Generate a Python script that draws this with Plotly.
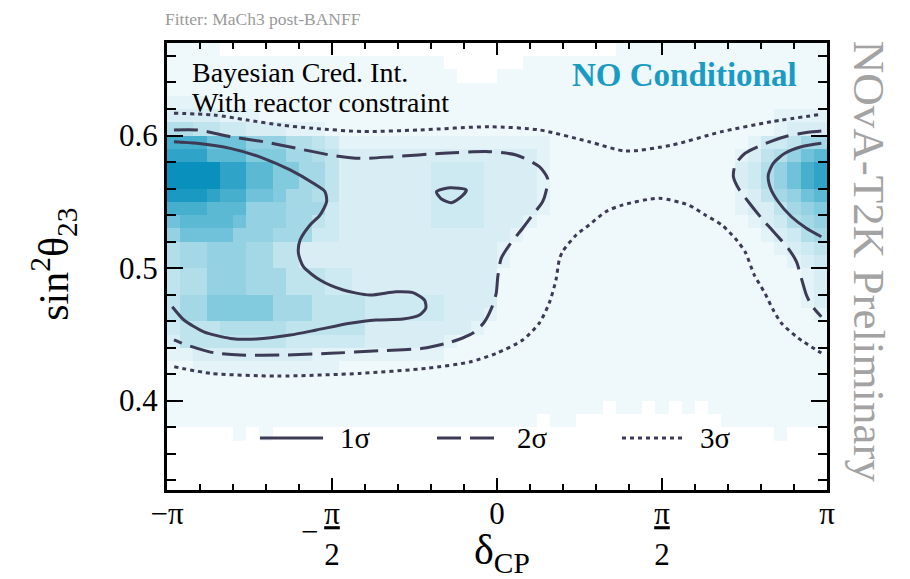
import math
import plotly.graph_objects as go

# ---------------- data ----------------
N_DCP_BINS = 50            # delta_CP bins across [-pi, pi]
S23_BIN = 0.01             # sin^2(theta23) row height
S23_BOTTOM_ROW = 0.375     # centre of lowest listed row

# posterior density level per bin (0 = empty, 1..f = increasing density); rows listed top (0.665) -> bottom (0.375)
density_rows = [
    "1111000000 0000000000 0000000000 0000111111 1111111111",  # 0.665
    "1111111111 1111111111 1000000111 1111111111 1111111111",  # 0.655
    "1111111111 1111111111 1100011111 1111111111 1111111111",  # 0.645
    "1111111111 1111111111 1111111111 1111111111 1111111111",  # 0.635
    "2221111111 1111111111 1111111111 1111111111 1111111111",  # 0.625
    "3333222111 1111111111 1111111111 1111111111 1111112222",  # 0.615
    "6655443332 2211111111 1111111111 1111111111 1111112333",  # 0.605
    "cccaaa8886 6542222222 2222222221 1111111111 1111244577",  # 0.595
    "dddbbb9997 7653333333 3333333321 1111111111 11123568ab",  # 0.585
    "ffffddbb99 7753333333 4444333321 1111111111 1113468acd",  # 0.575
    "ffffddbb99 7753333333 4444333321 1111111111 1113468acd",  # 0.565
    "eeedccaa97 7653333333 4444333321 1111111111 11123578ab",  # 0.555
    "cccbbb8887 7743333333 4444333321 1111111111 1112335789",  # 0.545
    "abbbba8887 7543333333 4444333211 1111111111 1111234678",  # 0.535
    "8aaaa88877 7443333333 3333332111 1111111111 1111123467",  # 0.525
    "6778887755 3333333333 3333321111 1111111111 1111112345",  # 0.515
    "6778887755 3333333333 3333321111 1111111111 1111111234",  # 0.505
    "5668887775 5544333333 3333311111 1111111111 1111111123",  # 0.495
    "5668887775 5544333333 3333311111 1111111111 1111111123",  # 0.485
    "5779999977 7555544444 4333311111 1111111111 1111111123",  # 0.475
    "5779999977 7555544444 4333211111 1111111111 1111111112",  # 0.465
    "4555666665 5555533333 3332111111 1111111111 1111111111",  # 0.455
    "3555555554 4444433333 3211111111 1111111111 1111111111",  # 0.445
    "2233333333 3222222222 2111111111 1111111111 1111111111",  # 0.435
    "1122222222 2221111111 1111111111 1111111111 1111111111",  # 0.425
    "1111111111 1111111111 1111111111 1111111111 1111111111",  # 0.415
    "1111111111 1111111111 1111111111 1111111111 1111111111",  # 0.405
    "1111111111 1111111111 1111111111 1110110101 0111111111",  # 0.395
    "1111111111 1111111111 1111111101 1000000000 0011111111",  # 0.385
    "0000010100 0000000000 0000000000 0000000000 0000001000",  # 0.375
]

# 1 sigma contours
sig1_left_dcp = [-3.0752, -2.8573, -2.5379, -2.2223, -1.9693, -1.7485, -1.6376, -1.6224, -1.6850, -1.7797,
                 -1.8745, -1.8906, -1.8432, -1.6850, -1.4642, -1.2111, -0.9619, -0.8008, -0.6899, -0.6776,
                 -0.7373, -0.8956, -1.1514, -1.4007, -1.7200, -1.9693, -2.2886, -2.5379, -2.7909, -2.9805, -3.0913]
sig1_left_s23 = [0.5953, 0.5941, 0.5903, 0.5828, 0.5740, 0.5639, 0.5576, 0.5500, 0.5400, 0.5325,
                 0.5211, 0.5113, 0.5010, 0.4909, 0.4834, 0.4796, 0.4821, 0.4814, 0.4758, 0.4698,
                 0.4645, 0.4615, 0.4608, 0.4583, 0.4532, 0.4494, 0.4464, 0.4469, 0.4519, 0.4608, 0.4708]
sig1_island_dcp = [-0.5762, -0.4501, -0.2919, -0.3393, -0.4340, -0.5288, -0.5762]
sig1_island_s23 = [0.5576, 0.5606, 0.5589, 0.5538, 0.5493, 0.5521, 0.5576]
sig1_right_dcp = [3.0875, 2.8980, 2.7407, 2.6298, 2.5824, 2.5985, 2.6772, 2.8032, 2.9454, 3.0875]
sig1_right_s23 = [0.5941, 0.5915, 0.5866, 0.5790, 0.5702, 0.5614, 0.5500, 0.5387, 0.5300, 0.5236]

# 2 sigma contours
sig2_left_dcp = [-3.0752, -2.8544, -2.5379, -2.2223, -1.9067, -1.5902, -1.3031, -0.9875, -0.5136, -0.0711,
                 0.1820, 0.4028, 0.4814, 0.4663, 0.4340, 0.3393, 0.2445, 0.1185, 0.0398, 0.0076,
                 -0.0076, -0.0521, -0.1279, -0.2293, -0.3269, -0.4530, -0.7060, -1.1164, -1.5902, -2.0640,
                 -2.4431, -2.6961, -2.8544, -2.9966, -3.0752]
sig2_left_s23 = [0.6042, 0.6042, 0.5991, 0.5953, 0.5903, 0.5853, 0.5828, 0.5840, 0.5866, 0.5878,
                 0.5853, 0.5765, 0.5677, 0.5576, 0.5500, 0.5400, 0.5300, 0.5174, 0.5073, 0.4934,
                 0.4809, 0.4698, 0.4585, 0.4509, 0.4472, 0.4438, 0.4394, 0.4376, 0.4356, 0.4343,
                 0.4343, 0.4361, 0.4394, 0.4432, 0.4457]
sig2_right_dcp = [3.0875, 2.9615, 2.7407, 2.5189, 2.3616, 2.2668, 2.2507, 2.2981, 2.3929, 2.5189,
                  2.6611, 2.7720, 2.8506, 2.8980, 2.9454, 2.9928, 3.0875]
sig2_right_s23 = [0.6034, 0.6024, 0.5991, 0.5928, 0.5866, 0.5777, 0.5689, 0.5602, 0.5500, 0.5375,
                  0.5249, 0.5149, 0.5048, 0.4922, 0.4796, 0.4721, 0.4632]

# 3 sigma contours
sig3_top_dcp = [-3.0752, -2.6961, -2.3806, -2.0640, -1.7485, -1.2746, -0.7345, -0.0711, 0.4028, 0.8766,
                1.2244, 1.6660, 2.1399, 2.6137, 3.0875]
sig3_top_s23 = [0.6168, 0.6155, 0.6117, 0.6079, 0.6054, 0.6030, 0.6042, 0.6066, 0.6042, 0.5953,
                0.5883, 0.5928, 0.6029, 0.6104, 0.6160]
sig3_bot_dcp = [-3.0724, -2.7246, -2.0925, -1.3031, -0.6710, -0.2606, -0.0076, 0.2445, 0.4028, 0.4975,
                0.5610, 0.5923, 0.6236, 0.7534, 0.8766, 1.0349, 1.1922, 1.5400, 1.8243, 1.9825,
                2.1399, 2.2668, 2.3616, 2.4498, 2.5511, 2.6298, 2.7085, 2.8667, 3.0875]
sig3_bot_s23 = [0.4255, 0.4205, 0.4185, 0.4205, 0.4243, 0.4291, 0.4356, 0.4457, 0.4585, 0.4736,
                0.4909, 0.5060, 0.5123, 0.5249, 0.5325, 0.5425, 0.5475, 0.5526, 0.5475, 0.5400,
                0.5325, 0.5224, 0.5123, 0.4947, 0.4809, 0.4683, 0.4583, 0.4472, 0.4358]

x_tick_vals = [-math.pi, -math.pi / 2, 0, math.pi / 2, math.pi]
x_tick_text = ["\u2212\u03c0", "<u>\u03c0</u><br>2", "0", "<u>\u03c0</u><br>2", "\u03c0"]
y_tick_vals = [0.4, 0.5, 0.6]
y_tick_text = ["0.4", "0.5", "0.6"]
legend_labels = ["1\u03c3", "2\u03c3", "3\u03c3"]

# ---------------- style ----------------
level_colors = ["#eff8fb", "#e4f3f8", "#d8eef4", "#cde9f1", "#c0e4ee", "#b2dee9", "#a5d8e6",
                "#94d1e2", "#82cadd", "#6fc2d9", "#5bb9d4", "#46afcd", "#30a4c8", "#1a99c2", "#0a90bd"]
colorscale = [[i / (len(level_colors) - 1), c] for i, c in enumerate(level_colors)]
LINE_C = "#3c3a54"
FONT = "Liberation Serif"
DASH = "24px,9px"
DOT = "4px,4px"

# heatmap z (bottom row first)
z = []
for row in reversed(density_rows):
    s = row.replace(" ", "")
    s = (s + s[-1] * N_DCP_BINS)[:N_DCP_BINS]
    z.append([None if ch == "0" else int(ch, 16) for ch in s])

dx = 2 * math.pi / N_DCP_BINS
fig = go.Figure()
fig.add_trace(go.Heatmap(z=z, x0=-math.pi + dx / 2, dx=dx, y0=S23_BOTTOM_ROW, dy=S23_BIN,
                         colorscale=colorscale, zmin=1, zmax=len(level_colors), showscale=False,
                         hoverinfo="skip", zsmooth=False))

def add_line(xs, ys, dash):
    fig.add_trace(go.Scatter(x=xs, y=ys, mode="lines", showlegend=False, hoverinfo="skip",
                             line=dict(color=LINE_C, width=3, dash=dash, shape="spline", smoothing=0.7)))

add_line(sig3_top_dcp, sig3_top_s23, DOT)
add_line(sig3_bot_dcp, sig3_bot_s23, DOT)
add_line(sig2_left_dcp, sig2_left_s23, DASH)
add_line(sig2_right_dcp, sig2_right_s23, DASH)
add_line(sig1_left_dcp, sig1_left_s23, "solid")
add_line(sig1_island_dcp, sig1_island_s23, "solid")
add_line(sig1_right_dcp, sig1_right_s23, "solid")

# legend (drawn inside the frame)
leg_y = 0.1163
shapes = []
for (xa, xb), dsh in zip([(0.1409, 0.2364), (0.4091, 0.5015), (0.6894, 0.7803)], ["solid", DASH, DOT]):
    shapes.append(dict(type="line", xref="paper", yref="paper", x0=xa, x1=xb, y0=leg_y, y1=leg_y,
                       line=dict(color=LINE_C, width=3, dash=dsh)))

annotations = []
for lab, xl in zip(legend_labels, [0.2591, 0.5273, 0.8045]):
    annotations.append(dict(text=lab, xref="paper", yref="paper", x=xl, y=leg_y, xanchor="left",
                            yanchor="middle", showarrow=False, font=dict(family=FONT, size=29, color="black")))

annotations += [
    dict(text="Fitter: MaCh3 post-BANFF", xref="paper", yref="paper", x=-0.006, y=1.054,
         xanchor="left", yanchor="middle", showarrow=False,
         font=dict(family=FONT, size=17.5, color="#9a9a9a")),
    dict(text="Bayesian Cred. Int.", xref="paper", yref="paper", x=0.035, y=0.933,
         xanchor="left", yanchor="middle", showarrow=False,
         font=dict(family=FONT, size=28, color="black")),
    dict(text="With reactor constraint", xref="paper", yref="paper", x=0.035, y=0.866,
         xanchor="left", yanchor="middle", showarrow=False,
         font=dict(family=FONT, size=28, color="black")),
    dict(text="<b>NO Conditional</b>", xref="paper", yref="paper", x=0.9575, y=0.9284,
         xanchor="right", yanchor="middle", showarrow=False,
         font=dict(family=FONT, size=33, color="#1a9bc4")),
    dict(text="NOvA-T2K Preliminary", xref="paper", yref="paper", x=1.064, y=0.51,
         xanchor="center", yanchor="middle", textangle=90, showarrow=False,
         font=dict(family=FONT, size=45, color="#a3a3a3")),
    dict(text="sin<sup>2</sup>\u03b8<sub>23</sub>", xref="paper", yref="paper", x=-0.172, y=0.505,
         xanchor="center", yanchor="middle", textangle=-90, showarrow=False,
         font=dict(family=FONT, size=42, color="black")),
    dict(text="\u03b4<sub>CP</sub>", xref="paper", yref="paper", x=0.507, y=-0.141,
         xanchor="center", yanchor="middle", showarrow=False,
         font=dict(family=FONT, size=42, color="black")),
    dict(text="\u2212", xref="x", yref="paper", x=-math.pi / 2, xshift=-23, y=-0.092,
         xanchor="center", yanchor="middle", showarrow=False,
         font=dict(family=FONT, size=31, color="black")),
]

# the page body keeps an 8px margin, so the left/top margins are 8px smaller than the target position
fig.update_layout(
    width=910, height=579,
    margin=dict(l=159, r=91, t=35, b=97),
    paper_bgcolor="white", plot_bgcolor="white",
    showlegend=False,
    shapes=shapes, annotations=annotations,
    xaxis=dict(range=[-math.pi, math.pi], showgrid=False, zeroline=False,
               showline=True, linewidth=3, linecolor="black", mirror="allticks",
               ticks="inside", ticklen=12, tickwidth=2, tickcolor="black",
               tickmode="array", tickvals=x_tick_vals, ticktext=x_tick_text,
               ticklabelstandoff=-6,
               tickfont=dict(family=FONT, size=31, color="black"),
               minor=dict(tickmode="linear", tick0=0, dtick=math.pi / 10, ticks="inside",
                          ticklen=6, tickwidth=2, tickcolor="black", showgrid=False)),
    yaxis=dict(range=[0.3325, 0.6698], showgrid=False, zeroline=False,
               showline=True, linewidth=3, linecolor="black", mirror="allticks",
               ticks="inside", ticklen=16, tickwidth=2, tickcolor="black",
               tickmode="array", tickvals=y_tick_vals, ticktext=y_tick_text,
               tickfont=dict(family=FONT, size=31, color="black"),
               minor=dict(tickmode="linear", tick0=0, dtick=0.02, ticks="inside",
                          ticklen=9, tickwidth=2, tickcolor="black", showgrid=False)),
)

fig.write_html("out.html")
